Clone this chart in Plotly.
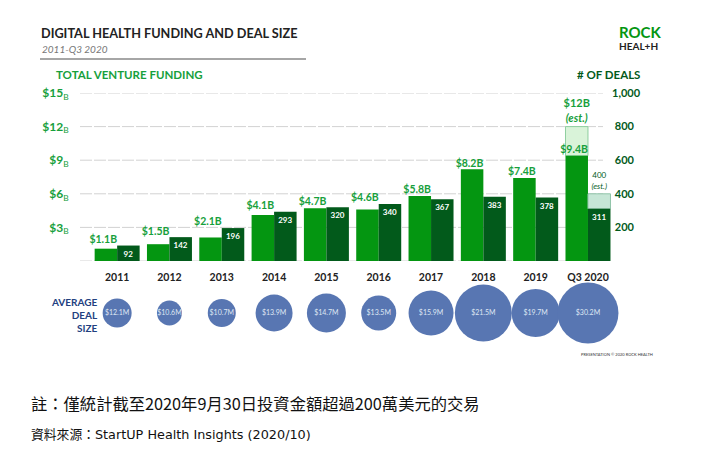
# --- Digital health venture funding, deal counts and average deal size, 2011 to Q3 2020 ---
# Funding bars sit on the left axis ($B), deal bars on the right axis (count); both
# scales share one baseline and one top, so the grid lines serve both of them.
import plotly.graph_objects as go

YEARS       = ['2011', '2012', '2013', '2014', '2015', '2016', '2017', '2018', '2019', 'Q3 2020']
FUNDING     = [1.1, 1.5, 2.1, 4.1, 4.7, 4.6, 5.8, 8.2, 7.4, 9.4]   # $B
DEALS       = [92, 142, 196, 293, 320, 340, 367, 383, 378, 311]
DEAL_SIZE   = [12.1, 10.6, 10.7, 13.9, 14.7, 13.5, 15.9, 21.5, 19.7, 30.2]   # average, $M
EST_YEAR    = ['Q3 2020']
EST_FUNDING = [12]     # $B, full-year estimate
EST_DEALS   = [400]
FUND_TICKS  = [3, 6, 9, 12, 15]
DEAL_TICKS  = [200, 400, 600, 800, 1000]

_GRN, _DRK, _TXT, _BLU = '#049611', '#025a1b', '#17a03c', '#5876b2'
_EST_GRN, _EST_DRK = '#d9f3d9', '#c6e6d6'
_NAVY = '#22407f'
_FONT = 'Lato'
_CJK  = 'Noto Sans CJK TC'
_SRC  = 'DejaVu Sans, Noto Sans CJK TC'
_W, _H = 708, 464
_BARW = 0.43
_BUBBLE_PX = [29, 25, 28, 37, 39, 35, 45, 57, 48, 61]   # drawn diameters, not to any scale


def _note(fig, x, y, text, size, color, anchor='left', family=_FONT):
    """Text placed by page pixels (x from the left, y from the top)."""
    fig.add_annotation(x=x / _W, y=1 - y / _H, xref='paper', yref='paper', text=text, showarrow=False,
                       xanchor=anchor, yanchor='middle', align=anchor, borderpad=0,
                       font=dict(size=size, color=color, family=family))


def funding_fig():
    """Two-scale bar chart with the row of deal-size bubbles and all page texts below it."""
    fig = go.Figure()
    fig.add_trace(go.Bar(x=EST_YEAR, y=[e - FUNDING[-1] for e in EST_FUNDING], base=[FUNDING[-1]],
                         yaxis='y', offset=-_BARW, width=_BARW, cliponaxis=False,   # estimate on top of Q3
                         marker=dict(color=_EST_GRN, line=dict(color='#8fcf9f', width=1)),
                         text=[f'<b>${e}B</b><br><b><i>(est.)</i></b>' for e in EST_FUNDING], textposition='outside',
                         constraintext='none', textfont=dict(size=11, color=_TXT)))
    fig.add_trace(go.Bar(x=YEARS, y=FUNDING, yaxis='y', offset=-_BARW, width=_BARW,
                         marker=dict(color=_GRN, line_width=0), cliponaxis=False))
    fig.add_trace(go.Bar(x=EST_YEAR, y=[e - DEALS[-1] for e in EST_DEALS], base=[DEALS[-1]],
                         yaxis='y2', offset=0, width=_BARW, cliponaxis=False,
                         marker=dict(color=_EST_DRK, line=dict(color='#8fc4a8', width=1)),
                         text=[f'{e}<br><i>(est.)</i>' for e in EST_DEALS], textposition='outside',
                         constraintext='none', textfont=dict(size=8, color=_DRK)))
    fig.add_trace(go.Bar(x=YEARS, y=DEALS, yaxis='y2', offset=0, width=_BARW,
                         marker=dict(color=_DRK, line_width=0), cliponaxis=False,
                         text=[f'<b>{v}</b>' for v in DEALS], textposition='inside', insidetextanchor='end',
                         constraintext='none', textangle=0, textfont=dict(size=8, color='white')))
    tops = [max(f, d * 15 / 1000) for f, d in zip(FUNDING, DEALS)]   # $ labels clear the taller bar of each pair
    fig.add_trace(go.Scatter(x=YEARS, y=tops, yaxis='y', mode='text', cliponaxis=False,
                             text=[f'<b>${v}B</b>' for v in FUNDING], textposition='top left',
                             textfont=dict(size=10.5, color=_TXT)))
    fig.add_trace(go.Scatter(x=YEARS, y=[0] * len(YEARS), yaxis='y3', mode='markers+text', cliponaxis=False,
                             marker=dict(size=_BUBBLE_PX, color=_BLU, opacity=1, line_width=0),
                             text=[f'${v}M' for v in DEAL_SIZE], textposition='middle center',
                             textfont=dict(size=7, color='#dfe6f3')))
    fig.update_layout(autosize=False, width=_W, height=_H, plot_bgcolor='white', paper_bgcolor='white',
                      barmode='overlay', showlegend=False, margin=dict(l=0, r=0, t=0, b=0),
                      font=dict(family=_FONT),
                      xaxis=dict(domain=[80 / _W, 611 / _W], range=[-0.71, 9.44], type='category',   # room for the last bar
                                 categoryorder='array', categoryarray=YEARS, anchor='y', showgrid=False,
                                 ticks='outside', ticklen=6, tickcolor='rgba(0,0,0,0)', showline=False,
                                 automargin=False, tickfont=dict(size=10.5, color='#222222', weight='bold')),
                      yaxis=dict(domain=[1 - 261 / _H, 1 - 93 / _H], range=[0, 15], tickvals=FUND_TICKS,
                                 ticktext=[f'<b>${v}</b><sub>B</sub>' for v in FUND_TICKS], automargin=False,
                                 ticks='outside', ticklen=8, tickcolor='rgba(0,0,0,0)',
                                 tickfont=dict(size=12, color=_TXT), showgrid=False, zeroline=False),
                      yaxis2=dict(domain=[1 - 261 / _H, 1 - 93 / _H], range=[0, 1000], overlaying='y', side='right',
                                  anchor='x', tickvals=DEAL_TICKS, showgrid=False, zeroline=False, automargin=False,
                                  ticktext=[f'<b>{v:,}</b>' if v == 1000 else f'\u00a0<b>{v}</b>' for v in DEAL_TICKS],
                                  ticks='', tickfont=dict(size=11, color=_DRK)),
                      yaxis3=dict(domain=[1 - 343 / _H, 1 - 283 / _H], range=[-1, 1], anchor='x', visible=False,
                                  automargin=False))
    for v in [0] + FUND_TICKS:             # grid stops short of the last bar
        fig.add_shape(type='line', xref='paper', yref='y', x0=80 / _W, x1=603 / _W, y0=v, y1=v, layer='below',
                      line=dict(color='#d2d2d2', width=1, dash='12px,2px'))
    fig.add_shape(type='line', xref='paper', yref='paper', x0=40 / _W, x1=306 / _W, y0=1 - 59 / _H, y1=1 - 59 / _H,
                  line=dict(color='#a6a6a6', width=2))
    _note(fig, 40, 33, '<b>DIGITAL HEALTH FUNDING AND DEAL SIZE</b>', 12.7, '#222222')
    _note(fig, 41, 49, '<i>2011-Q3 2020</i>', 10, '#777777')
    _note(fig, 55, 74, '<b>TOTAL VENTURE FUNDING</b>', 11.5, _TXT)
    _note(fig, 641, 74, '<b># OF DEALS</b>', 11.5, _DRK, anchor='right')
    _note(fig, 618, 37, f'<span style="font-size:15px;color:{_GRN}"><b>ROCK</b></span><br>'
                        '<span style="font-size:10px"><b>HEAL+H</b></span>', 9, '#222222')
    _note(fig, 99, 315, '<b>AVERAGE<br>DEAL<br>SIZE</b>', 10, _NAVY, anchor='right')
    _note(fig, 580, 354, 'PRESENTATION © 2020 ROCK HEALTH', 4, '#333333')
    _note(fig, 30, 403, '註：僅統計截至2020年9月30日投資金額超過200萬美元的交易', 16.3, '#111111', family=_CJK)
    _note(fig, 30, 434, '資料來源：StartUP Health Insights (2020/10)', 12.8, '#111111', family=_SRC)
    return fig


fig = funding_fig()
fig.write_html('out.html', post_script="document.body.style.margin='0';", config=dict(displayModeBar=False))
